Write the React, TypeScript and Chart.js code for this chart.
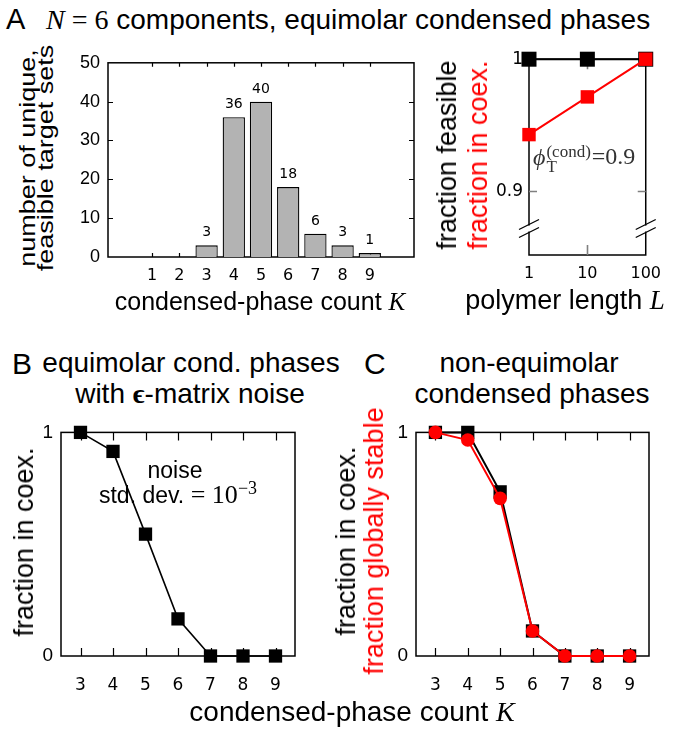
import React, { useEffect, useRef } from 'react';
import { Chart, registerables } from 'chart.js';
Chart.register(...registerables);

// ---------- data ----------
const histK = [1, 2, 3, 4, 5, 6, 7, 8, 9];
const histCounts = [0, 0, 3, 36, 40, 18, 6, 3, 1];
const histYTicks = [0, 10, 20, 30, 40, 50];

const polymerL = [1, 10, 100];
const fracFeasible = [1, 1, 1];
const fracCoexL = [0.943, 0.9715, 1.0];
const lYTicks = [0.9, 1];
const axisBreakAt = 0.872;

const noiseK = [3, 4, 5, 6, 7, 8, 9];
const noiseCoex = [1.0, 0.915, 0.545, 0.166, 0, 0, 0];

const neqK = [3, 4, 5, 6, 7, 8, 9];
const neqCoex = [1.0, 1.0, 0.734, 0.112, 0, 0, 0];
const neqStable = [1.0, 0.966, 0.705, 0.112, 0, 0, 0];
const fracYTicks = [0, 1];

const SANS = '"Liberation Sans", Arial, sans-serif';
const SERIF = '"Liberation Serif", "Times New Roman", serif';
const DJ = '"DejaVu Sans", sans-serif';
const RED = '#ff0000';

// ---------- plugins ----------
const framePlugin = {
  id: 'frame',
  beforeDatasetsDraw(chart: any, _a: any, o: any) {
    const { ctx, chartArea: a, scales } = chart;
    const x = scales.x, y = scales.y;
    ctx.save();
    ctx.strokeStyle = '#000';
    ctx.lineWidth = o.lw || 1.5;
    ctx.strokeRect(a.left, a.top, a.right - a.left, a.bottom - a.top);
    ctx.strokeStyle = o.tickColor || '#000';
    ctx.lineWidth = o.tickWidth || 1.2;
    ctx.beginPath();
    for (const v of o.xTicks || []) {
      const px = Math.round(x.getPixelForValue(v)) + 0.5;
      ctx.moveTo(px, a.bottom); ctx.lineTo(px, a.bottom - o.xLen);
      ctx.moveTo(px, a.top); ctx.lineTo(px, a.top + o.xLen);
    }
    for (const v of o.yTicks || []) {
      const py = Math.round(y.getPixelForValue(v)) + 0.5;
      ctx.moveTo(a.left, py); ctx.lineTo(a.left + o.yLen, py);
      ctx.moveTo(a.right, py); ctx.lineTo(a.right - o.yLen, py);
    }
    ctx.stroke();
    if (o.breakAt !== undefined) {
      const py = y.getPixelForValue(o.breakAt);
      for (const ax of [a.left, a.right]) {
        ctx.strokeStyle = '#fff';
        ctx.lineWidth = 4;
        ctx.beginPath(); ctx.moveTo(ax, py - 3); ctx.lineTo(ax, py + 3); ctx.stroke();
        ctx.strokeStyle = '#000';
        ctx.lineWidth = 1.3;
        ctx.beginPath();
        ctx.moveTo(ax - 10, py - 4 + 5); ctx.lineTo(ax + 10, py - 4 - 5);
        ctx.moveTo(ax - 10, py + 4 + 5); ctx.lineTo(ax + 10, py + 4 - 5);
        ctx.stroke();
      }
    }
    ctx.restore();
  },
};

const barLabelPlugin = {
  id: 'barLabels',
  afterDatasetsDraw(chart: any) {
    const { ctx } = chart;
    const meta = chart.getDatasetMeta(0);
    ctx.save();
    ctx.font = '14px ' + DJ;
    ctx.fillStyle = '#000';
    ctx.textAlign = 'center';
    ctx.textBaseline = 'alphabetic';
    meta.data.forEach((el: any, i: number) => {
      const v = histCounts[i];
      if (!v) return;
      ctx.fillText(String(v), el.x, el.y - 9);
    });
    ctx.restore();
  },
};

// ---------- helpers ----------
function fixedY(width: number, extra: any) {
  return {
    afterFit: (s: any) => { s.width = width; },
    grid: { display: false, drawTicks: false },
    border: { display: false },
    ...extra,
  };
}
function fixedX(height: number, extra: any) {
  return {
    afterFit: (s: any) => { s.height = height; },
    grid: { display: false, drawTicks: false },
    border: { display: false },
    ...extra,
  };
}
const setTicks = (vals: number[]) => (s: any) => { s.ticks = vals.map((v) => ({ value: v })); };

function ChartBox(props: { left: number; top: number; width: number; height: number; make: () => any }) {
  const ref = useRef<HTMLCanvasElement>(null);
  useEffect(() => {
    const c = new Chart(ref.current as HTMLCanvasElement, props.make());
    return () => c.destroy();
  }, []);
  return (
    <canvas
      ref={ref}
      width={props.width}
      height={props.height}
      style={{ position: 'absolute', left: props.left, top: props.top, width: props.width, height: props.height }}
    />
  );
}

function T(props: { x: number; y: number; size: number; align?: 'left' | 'center'; color?: string; font?: string; children: any }) {
  const { x, y, size, align = 'left', color = '#000', font = SANS } = props;
  return (
    <div
      style={{
        position: 'absolute',
        left: x,
        top: y - 0.85 * size,
        fontSize: size,
        lineHeight: size + 'px',
        height: size,
        fontFamily: font,
        color,
        whiteSpace: 'nowrap',
        transform: align === 'center' ? 'translateX(-50%)' : undefined,
      }}
    >
      {props.children}
    </div>
  );
}

function RotLines(props: { cx: number; cy: number; size: number; pitch: number; squeeze?: number; lines: { text: string; color: string }[] }) {
  const sq = props.squeeze || 1;
  return (
    <div
      style={{
        position: 'absolute',
        left: props.cx,
        top: props.cy,
        transform: `translate(-50%, -50%) scaleX(${sq}) rotate(-90deg)`,
        fontFamily: SANS,
        fontSize: props.size,
        lineHeight: props.pitch + 'px',
        textAlign: 'center',
        whiteSpace: 'nowrap',
      }}
    >
      {props.lines.map((l, i) => (
        <div key={i} style={{ color: l.color }}>{l.text}</div>
      ))}
    </div>
  );
}

const M = (s: string) => <span style={{ fontFamily: SERIF, fontStyle: 'italic' }}>{s}</span>;
const R = (s: string) => <span style={{ fontFamily: SERIF }}>{s}</span>;

// ---------- chart configs ----------
const makeHist = () => ({
  type: 'bar',
  data: {
    datasets: [
      {
        data: histK.map((k, i) => ({ x: k, y: histCounts[i] })),
        backgroundColor: '#b3b3b3',
        borderColor: '#000',
        borderWidth: 1.3,
        barPercentage: 0.82,
        categoryPercentage: 1,
      },
    ],
  },
  options: {
    responsive: false,
    animation: false,
    devicePixelRatio: 1,
    layout: { padding: { top: 10, right: 10, left: 0, bottom: 0 } },
    plugins: {
      legend: { display: false },
      tooltip: { enabled: false },
      frame: { xTicks: histK, yTicks: histYTicks.slice(1, -1), xLen: 4, yLen: 5, tickColor: '#000' },
    },
    scales: {
      x: fixedX(37, {
        type: 'linear',
        min: 0,
        max: 10,
        afterBuildTicks: setTicks(histK),
        ticks: { font: { family: 'DejaVu Sans', size: 16 }, color: '#000', padding: 9, autoSkip: false, maxRotation: 0 },
      }),
      y: fixedY(48, {
        min: 0,
        max: 50,
        afterBuildTicks: setTicks(histYTicks),
        ticks: { font: { family: 'Liberation Sans', size: 18 }, color: '#000', padding: 8 },
      }),
    },
  },
  plugins: [framePlugin, barLabelPlugin],
});

const makeL = () => ({
  type: 'line',
  data: {
    datasets: [
      {
        data: polymerL.map((l, i) => ({ x: l, y: fracCoexL[i] })),
        borderColor: RED,
        backgroundColor: RED,
        borderWidth: 2,
        pointStyle: 'rect',
        pointRadius: 9.5,
        pointBorderWidth: 0,
        clip: false,
      },
      {
        data: polymerL.map((l, i) => ({ x: l, y: fracFeasible[i] })),
        borderColor: '#000',
        backgroundColor: '#000',
        borderWidth: 2,
        pointStyle: 'rect',
        pointRadius: 10.6,
        pointBorderWidth: 0,
        clip: false,
      },
    ],
  },
  options: {
    responsive: false,
    animation: false,
    devicePixelRatio: 1,
    layout: { padding: { top: 10, right: 22, left: 0, bottom: 0 } },
    plugins: {
      legend: { display: false },
      tooltip: { enabled: false },
      frame: { xTicks: [10], yTicks: [0.9], xLen: 10, yLen: 8, tickColor: '#808080', tickWidth: 1.6, breakAt: axisBreakAt },
    },
    scales: {
      x: fixedX(38, {
        type: 'logarithmic',
        min: 1,
        max: 100,
        afterBuildTicks: setTicks(polymerL),
        ticks: { font: { family: 'DejaVu Sans', size: 16 }, color: '#000', padding: 9, callback: (v: number) => String(v) },
      }),
      y: fixedY(59, {
        min: 0.852,
        max: 1,
        afterBuildTicks: setTicks(lYTicks),
        ticks: { font: { family: 'DejaVu Sans', size: 17 }, color: '#000', padding: 6, callback: (v: number) => String(v) },
      }),
    },
  },
  plugins: [framePlugin],
});

const kScales = () => ({
  x: fixedX(47, {
    type: 'linear',
    min: 2.4,
    max: 9.6,
    afterBuildTicks: setTicks(noiseK),
    ticks: { font: { family: 'DejaVu Sans', size: 17 }, color: '#000', padding: 19 },
  }),
  y: fixedY(51, {
    min: 0,
    max: 1,
    afterBuildTicks: setTicks(fracYTicks),
    ticks: { font: { family: 'Liberation Sans', size: 19 }, color: '#000', padding: 8 },
  }),
});

const makeNoise = () => ({
  type: 'line',
  data: {
    datasets: [
      {
        data: noiseK.map((k, i) => ({ x: k, y: noiseCoex[i] })),
        borderColor: '#000',
        backgroundColor: '#000',
        borderWidth: 1.6,
        pointStyle: 'rect',
        pointRadius: 9.4,
        pointBorderWidth: 0,
        clip: false,
      },
    ],
  },
  options: {
    responsive: false,
    animation: false,
    devicePixelRatio: 1,
    layout: { padding: { top: 10, right: 10, left: 0, bottom: 0 } },
    plugins: {
      legend: { display: false },
      tooltip: { enabled: false },
      frame: { xTicks: noiseK, yTicks: [], xLen: 8, yLen: 8, tickColor: '#000' },
    },
    scales: kScales(),
  },
  plugins: [framePlugin],
});

const makeNeq = () => ({
  type: 'line',
  data: {
    datasets: [
      {
        data: neqK.map((k, i) => ({ x: k, y: neqStable[i] })),
        borderColor: RED,
        backgroundColor: RED,
        borderWidth: 2,
        pointStyle: 'circle',
        pointRadius: 6.8,
        pointBorderWidth: 0,
        clip: false,
      },
      {
        data: neqK.map((k, i) => ({ x: k, y: neqCoex[i] })),
        borderColor: '#000',
        backgroundColor: '#000',
        borderWidth: 2,
        pointStyle: 'rect',
        pointRadius: 9.4,
        pointBorderWidth: 0,
        clip: false,
      },
    ],
  },
  options: {
    responsive: false,
    animation: false,
    devicePixelRatio: 1,
    layout: { padding: { top: 10, right: 10, left: 0, bottom: 0 } },
    plugins: {
      legend: { display: false },
      tooltip: { enabled: false },
      frame: { xTicks: neqK, yTicks: [], xLen: 8, yLen: 8, tickColor: '#000' },
    },
    scales: kScales(),
  },
  plugins: [framePlugin],
});

export default function App() {
  return (
    <div style={{ position: 'absolute', left: 0, top: 0, width: 683, height: 729, background: '#fff', overflow: 'hidden' }}>
      <ChartBox left={60} top={44} width={364} height={250} make={makeHist} />
      <ChartBox left={470} top={43} width={200} height={250} make={makeL} />
      <ChartBox left={10} top={413} width={295} height={290} make={makeNoise} />
      <ChartBox left={365} top={413} width={294} height={290} make={makeNeq} />

      {/* Panel A */}
      <T x={6} y={30} size={29}>A</T>
      <T x={46} y={30} size={28}>
        {M('N')}{R(' = 6')} components, equimolar condensed phases
      </T>
      <RotLines cx={36.5} cy={158} size={27} pitch={21} squeeze={0.85} lines={[{ text: 'number of unique,', color: '#000' }, { text: 'feasible target sets', color: '#000' }]} />
      <T x={260} y={310} size={25} align="center">condensed-phase count {M('K')}</T>
      <RotLines cx={463} cy={155} size={27} pitch={31} lines={[{ text: 'fraction feasible', color: '#000' }, { text: 'fraction in coex.', color: RED }]} />
      <T x={565} y={310} size={27} align="center">polymer length {M('L')}</T>
      <T x={533} y={164} size={24} color="#333" font={SERIF}>
        <span style={{ fontStyle: 'italic' }}>ϕ</span>
        <span style={{ display: 'inline-flex', flexDirection: 'column', verticalAlign: 'middle', lineHeight: '15px', fontSize: 17, marginLeft: 1 }}>
          <span>(cond)</span>
          <span>T</span>
        </span>
        <span style={{ marginLeft: 1 }}>=0.9</span>
      </T>

      {/* Panel B */}
      <T x={12} y={374} size={30}>B</T>
      <T x={191} y={373} size={28} align="center">equimolar cond. phases</T>
      <T x={190} y={404} size={28} align="center">
        with <span style={{ fontFamily: SERIF, fontWeight: 'bold' }}>ϵ</span>-matrix noise
      </T>
      <RotLines cx={24} cy={542} size={27} pitch={30} lines={[{ text: 'fraction in coex.', color: '#000' }]} />
      <T x={175} y={479} size={23} align="center">noise</T>
      <T x={178} y={497} size={23} align="center">
        std. dev.<span style={{ fontFamily: SERIF, fontSize: 26 }}> = 10</span>
        <sup style={{ fontFamily: SERIF, fontSize: 18 }}>−3</sup>
      </T>

      {/* Panel C */}
      <T x={364} y={374} size={30}>C</T>
      <T x={529} y={373} size={28} align="center">non-equimolar</T>
      <T x={532} y={404} size={28} align="center">condensed phases</T>
      <RotLines cx={360} cy={541} size={27} pitch={28} lines={[{ text: 'fraction in coex.', color: '#000' }, { text: 'fraction globally stable', color: RED }]} />

      <T x={352} y={722} size={28} align="center">condensed-phase count {M('K')}</T>
    </div>
  );
}
